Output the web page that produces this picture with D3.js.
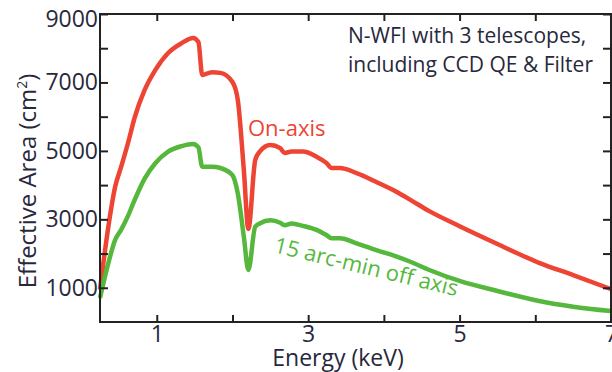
<!DOCTYPE html>
<html>
<head>
<meta charset="utf-8">
<script src="https://cdn.jsdelivr.net/npm/d3@7"></script>
<style>
  body { margin: 0; background: #fff; }
  svg { display: block; font-family: "Open Sans", sans-serif; }
</style>
</head>
<body>
<div class="canvas"></div>
<script>
// energy grid (keV)
const energy = [0.25, 0.36, 0.45, 0.53, 0.62, 0.71, 0.84, 0.98, 1.15, 1.33, 1.48, 1.55, 1.60, 1.73, 1.84,
    2.00, 2.07, 2.15, 2.21, 2.30, 2.36, 2.50, 2.63, 2.69, 2.78, 2.93, 3.11, 3.24, 3.31, 3.42, 3.64,
    3.90, 4.17, 4.35, 4.60, 5.00, 5.50, 6.05, 6.50, 7.00]

// effective area (cm^2)
const onAxis = [950, 2780, 3950, 4540, 5230, 5990, 6780, 7360, 7860, 8150, 8300, 8180, 7220, 7300, 7280,
    7010, 6490, 4440, 2720, 4730, 4980, 5170, 5080, 4940, 4980, 4980, 4830, 4650, 4500, 4500, 4350,
    4090, 3800, 3570, 3240, 2800, 2280, 1730, 1370, 960]
const offAxis = [700, 1720, 2400, 2700, 3100, 3580, 4190, 4640, 4980, 5140, 5200, 5100, 4540, 4540, 4500,
    4290, 3760, 2490, 1520, 2785, 2880, 2970, 2900, 2830, 2880, 2810, 2690, 2540, 2450, 2450, 2300,
    2100, 1910, 1760, 1520, 1200, 906, 614, 447, 320]

const xTicks = [1, 2, 3, 4, 5, 6, 7]
const yTicks = [1000, 2000, 3000, 4000, 5000, 6000, 7000, 8000, 9000]
const xLabelled = [1, 3, 5, 7]
const yLabelled = [1000, 3000, 5000, 7000, 9000]

const series = [
    { name: 'On-axis', values: onAxis, color: '#ee4433' },
    { name: '15 arc-min off axis', values: offAxis, color: '#55b83c' }
]

let width = 612,
    height = 372,
    plotLeft = 100, plotRight = 611,
    plotTop = 14, plotBottom = 322,
    ink = '#28283c'

let svg = d3.select('.canvas').append('svg')
    .attr('width', width)
    .attr('height', height)

let x = d3.scaleLinear().domain([0.25, 7]).range([plotLeft, plotRight])
let y = d3.scaleLinear().domain([0, 9000]).range([plotBottom, plotTop])

// CURVES
let line = d3.line()
    .x((d, i) => x(energy[i]))
    .y(d => y(d))
    .curve(d3.curveMonotoneX)

series.forEach(s => {
    svg.append('path')
        .attr('d', line(s.values))
        .attr('fill', 'none')
        .attr('stroke', s.color)
        .attr('stroke-width', 4.5)
        .attr('stroke-linejoin', 'round')
})

// AXES (ticks point inward)
let fmtX = d => xLabelled.includes(d) ? d : ''
let fmtY = d => yLabelled.includes(d) ? d : ''

svg.append('g')
    .attr('transform', `translate(0, ${plotBottom})`)
    .call(d3.axisBottom(x).tickValues(xTicks).tickFormat(fmtX).tickSizeInner(-7).tickSizeOuter(0).tickPadding(4))
svg.append('g')
    .attr('transform', `translate(0, ${plotTop})`)
    .call(d3.axisTop(x).tickValues(xTicks).tickFormat('').tickSizeInner(-7).tickSizeOuter(0))
let yAxis = svg.append('g')
    .attr('transform', `translate(${plotLeft}, 0)`)
    .call(d3.axisLeft(y).tickValues(yTicks).tickFormat(fmtY).tickSizeInner(-8).tickSizeOuter(0).tickPadding(2))
svg.append('g')
    .attr('transform', `translate(${plotRight}, 0)`)
    .call(d3.axisRight(y).tickValues(yTicks).tickFormat('').tickSizeInner(-8).tickSizeOuter(0))

svg.selectAll('.domain').remove()
svg.selectAll('.tick line').attr('stroke', '#222').attr('stroke-width', 2)
svg.selectAll('.tick text')
    .attr('fill', ink)
    .style('font-size', '23px')
    .style('font-family', '"Open Sans", sans-serif')

// top label sits a little lower so it is not clipped
yAxis.selectAll('.tick text')
    .filter(d => d === 9000)
    .attr('dy', '0.55em')

// frame
svg.append('rect')
    .attr('x', plotLeft)
    .attr('y', plotTop)
    .attr('width', plotRight - plotLeft)
    .attr('height', plotBottom - plotTop)
    .attr('fill', 'none')
    .attr('stroke', '#222')
    .attr('stroke-width', 2)

// LABELS
svg.append('text')
    .text('Energy (keV)')
    .attr('x', 338)
    .attr('y', 366)
    .attr('text-anchor', 'middle')
    .attr('fill', ink)
    .style('font-size', '23px')

let yl = svg.append('text')
    .attr('transform', 'translate(36, 181) rotate(-90)')
    .attr('text-anchor', 'middle')
    .attr('fill', ink)
    .style('font-size', '24px')
yl.append('tspan').text('Effective Area (cm')
yl.append('tspan').text('2').attr('dy', -9).style('font-size', '14px')
yl.append('tspan').text(')').attr('dy', 9)

svg.append('text')
    .attr('x', 348)
    .attr('fill', ink)
    .style('font-size', '21px')
    .selectAll('tspan')
    .data(['N-WFI with 3 telescopes,', 'including CCD QE & Filter'])
    .enter().append('tspan')
    .attr('x', 348)
    .attr('y', (d, i) => 43 + i * 29)
    .text(d => d)

svg.append('text')
    .text(series[0].name)
    .attr('x', 248)
    .attr('y', 136)
    .attr('fill', series[0].color)
    .style('font-size', '22px')

svg.append('text')
    .text(series[1].name)
    .attr('transform', 'translate(273, 252) rotate(13.6)')
    .attr('fill', series[1].color)
    .style('font-size', '22px')
</script>
</body>
</html>
